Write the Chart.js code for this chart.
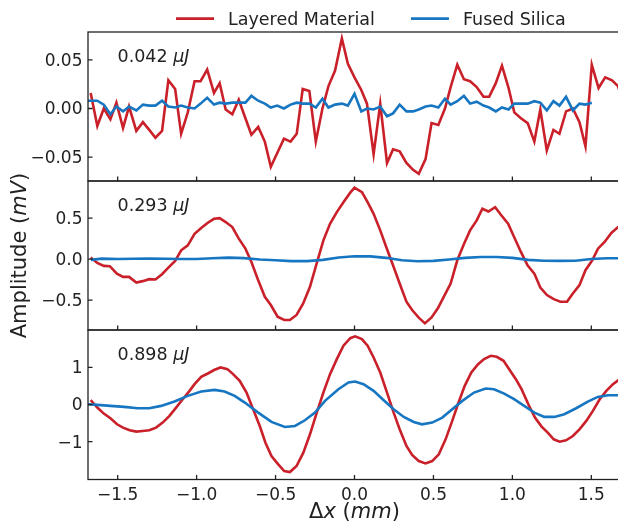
<!DOCTYPE html>
<html>
<head>
<meta charset="utf-8">
<script src="https://cdn.jsdelivr.net/npm/chart.js@4.4.1/dist/chart.umd.min.js"></script>
<style>
  html, body { margin: 0; padding: 0; background: #fff; overflow: hidden; width: 618px; height: 521px; }
  canvas { position: absolute; left: 0; }
</style>
</head>
<body>
<canvas id="panel1" width="624" height="183" style="top:0px"></canvas>
<canvas id="panel3" width="624" height="193" style="top:328px"></canvas>
<canvas id="panel2" width="624" height="312" style="top:100px"></canvas>
<script>
// series names and panel labels
const seriesNames = ['Layered Material', 'Fused Silica'];
const energies = ['0.042', '0.293', '0.898'];

// shared x axis (mm)
const xTicks = [-1.5, -1.0, -0.5, 0.0, 0.5, 1.0, 1.5];

// y ticks per panel
const yTicks1 = [-0.05, 0.00, 0.05];
const yTicks2 = [-0.5, 0.0, 0.5];
const yTicks3 = [-1, 0, 1];

// panel 1 (0.042 uJ), [x, amplitude]
const layered1 = [
  [-1.671, 0.016], [-1.629, -0.018], [-1.588, 0.000], [-1.546, -0.011], [-1.508, 0.006],
  [-1.466, -0.020], [-1.428, 0.002], [-1.382, -0.023], [-1.340, -0.014], [-1.300, -0.022],
  [-1.261, -0.030], [-1.219, -0.023], [-1.179, 0.029], [-1.136, 0.020], [-1.098, -0.026],
  [-1.056, -0.004], [-1.013, 0.028], [-0.975, 0.028], [-0.933, 0.040], [-0.890, 0.016],
  [-0.854, 0.026], [-0.816, -0.001], [-0.774, -0.006], [-0.733, 0.009], [-0.691, -0.010],
  [-0.653, -0.027], [-0.610, -0.019], [-0.568, -0.034], [-0.530, -0.060], [-0.490, -0.046],
  [-0.447, -0.031], [-0.405, -0.034], [-0.366, -0.026], [-0.328, 0.020], [-0.286, 0.018],
  [-0.245, -0.034], [-0.203, 0.000], [-0.165, 0.023], [-0.123, 0.039], [-0.080, 0.072],
  [-0.042, 0.046], [0.000, 0.032], [0.043, 0.019], [0.079, 0.005], [0.121, -0.047],
  [0.163, 0.005], [0.206, -0.056], [0.244, -0.042], [0.286, -0.044], [0.329, -0.056],
  [0.371, -0.063], [0.407, -0.067], [0.450, -0.052], [0.488, -0.015], [0.531, -0.017],
  [0.573, 0.000], [0.609, 0.022], [0.651, 0.045], [0.693, 0.030], [0.732, 0.028],
  [0.774, 0.022], [0.817, 0.012], [0.853, 0.012], [0.895, 0.026], [0.934, 0.044],
  [0.976, 0.021], [1.012, -0.004], [1.054, -0.010], [1.097, -0.015], [1.139, -0.034],
  [1.177, -0.001], [1.218, -0.043], [1.260, -0.022], [1.298, -0.026], [1.340, -0.003],
  [1.383, 0.000], [1.425, -0.014], [1.463, -0.039], [1.503, 0.045], [1.546, 0.021],
  [1.588, 0.032], [1.631, 0.029], [1.669, 0.023], [1.690, 0.012]
];
const silica1 = [
  [-1.713, 0.008], [-1.671, 0.008], [-1.629, 0.008], [-1.588, 0.004], [-1.546, -0.006],
  [-1.508, 0.002], [-1.466, -0.003], [-1.428, 0.002], [-1.382, -0.002], [-1.340, 0.004],
  [-1.300, 0.003], [-1.261, 0.003], [-1.219, 0.008], [-1.179, 0.002], [-1.136, 0.001],
  [-1.098, 0.003], [-1.056, 0.001], [-1.013, 0.000], [-0.975, 0.005], [-0.933, 0.011],
  [-0.890, 0.004], [-0.854, 0.006], [-0.816, 0.005], [-0.774, 0.006], [-0.733, 0.006],
  [-0.691, 0.006], [-0.653, 0.013], [-0.610, 0.008], [-0.568, 0.005], [-0.530, 0.001],
  [-0.490, 0.003], [-0.447, 0.000], [-0.405, 0.004], [-0.366, 0.006], [-0.328, 0.005],
  [-0.286, 0.005], [-0.245, 0.001], [-0.203, 0.010], [-0.165, 0.001], [-0.123, 0.004],
  [-0.080, 0.005], [-0.042, 0.003], [0.000, 0.015], [0.043, -0.003], [0.079, 0.000],
  [0.121, -0.001], [0.163, 0.002], [0.206, -0.008], [0.244, -0.005], [0.286, 0.004],
  [0.329, -0.003], [0.371, -0.003], [0.407, -0.001], [0.450, 0.002], [0.488, 0.003],
  [0.531, 0.001], [0.573, 0.010], [0.609, 0.004], [0.651, 0.0075], [0.693, 0.013],
  [0.732, 0.005], [0.774, 0.007], [0.817, 0.003], [0.853, 0.001], [0.895, -0.003],
  [0.934, 0.001], [0.976, -0.001], [1.012, 0.005], [1.054, 0.005], [1.097, 0.005],
  [1.139, 0.0075], [1.177, 0.006], [1.218, -0.002], [1.260, 0.0075], [1.298, 0.003],
  [1.340, 0.012], [1.383, -0.002], [1.425, 0.005], [1.463, 0.004], [1.503, 0.006]
];

// panel 2 (0.293 uJ)
const layered2 = [
  [-1.671, 0.018], [-1.629, -0.047], [-1.588, -0.083], [-1.550, -0.087], [-1.505, -0.177],
  [-1.466, -0.217], [-1.428, -0.217], [-1.382, -0.286], [-1.342, -0.269], [-1.300, -0.245],
  [-1.261, -0.249], [-1.219, -0.185], [-1.179, -0.104], [-1.136, -0.023], [-1.098, 0.107],
  [-1.056, 0.168], [-1.013, 0.309], [-0.971, 0.378], [-0.929, 0.443], [-0.890, 0.491],
  [-0.854, 0.499], [-0.816, 0.451], [-0.774, 0.390], [-0.733, 0.249], [-0.691, 0.127],
  [-0.653, -0.035], [-0.610, -0.258], [-0.568, -0.460], [-0.530, -0.561], [-0.487, -0.703],
  [-0.445, -0.743], [-0.409, -0.743], [-0.367, -0.682], [-0.325, -0.541], [-0.282, -0.338],
  [-0.240, -0.055], [-0.197, 0.228], [-0.155, 0.431], [-0.112, 0.573], [-0.070, 0.694],
  [-0.027, 0.810], [0.000, 0.870], [0.047, 0.816], [0.083, 0.694], [0.121, 0.552],
  [0.163, 0.350], [0.201, 0.147], [0.244, -0.075], [0.286, -0.298], [0.329, -0.520],
  [0.365, -0.622], [0.407, -0.715], [0.446, -0.784], [0.488, -0.711], [0.528, -0.601],
  [0.571, -0.439], [0.609, -0.298], [0.651, -0.015], [0.694, 0.188], [0.732, 0.350],
  [0.774, 0.471], [0.810, 0.613], [0.848, 0.580], [0.891, 0.633], [0.931, 0.532],
  [0.973, 0.431], [1.016, 0.248], [1.054, 0.087], [1.096, -0.075], [1.139, -0.177],
  [1.177, -0.347], [1.219, -0.439], [1.262, -0.488], [1.304, -0.520], [1.346, -0.520],
  [1.383, -0.419], [1.425, -0.318], [1.463, -0.136], [1.506, -0.015], [1.542, 0.127],
  [1.584, 0.208], [1.627, 0.318], [1.669, 0.390], [1.690, 0.400]
];
const silica2 = [
  [-1.67, -0.010], [-1.60, 0.005], [-1.50, 0.000], [-1.40, 0.003], [-1.30, 0.005],
  [-1.20, 0.003], [-1.10, 0.000], [-1.00, 0.000], [-0.90, 0.010], [-0.80, 0.018],
  [-0.70, 0.012], [-0.60, -0.005], [-0.50, -0.015], [-0.40, -0.025], [-0.30, -0.025],
  [-0.20, -0.010], [-0.10, 0.020], [0.00, 0.035], [0.10, 0.033], [0.20, 0.015],
  [0.30, -0.015], [0.40, -0.027], [0.50, -0.022], [0.60, -0.005], [0.70, 0.015],
  [0.80, 0.025], [0.90, 0.025], [1.00, 0.015], [1.10, -0.010], [1.20, -0.020],
  [1.30, -0.022], [1.40, -0.020], [1.50, 0.000], [1.60, 0.010], [1.69, 0.010]
];

// panel 3 (0.898 uJ)
const layered3 = [
  [-1.671, 0.117], [-1.629, -0.081], [-1.588, -0.243], [-1.546, -0.369], [-1.504, -0.532],
  [-1.466, -0.622], [-1.424, -0.694], [-1.382, -0.730], [-1.342, -0.712], [-1.300, -0.694],
  [-1.257, -0.622], [-1.215, -0.486], [-1.172, -0.306], [-1.130, -0.081], [-1.088, 0.144],
  [-1.045, 0.369], [-1.013, 0.550], [-0.971, 0.748], [-0.929, 0.838], [-0.886, 0.937],
  [-0.848, 1.000], [-0.805, 0.955], [-0.769, 0.820], [-0.727, 0.640], [-0.684, 0.324],
  [-0.642, -0.126], [-0.600, -0.577], [-0.564, -1.027], [-0.526, -1.387], [-0.483, -1.613],
  [-0.445, -1.793], [-0.409, -1.820], [-0.367, -1.658], [-0.324, -1.297], [-0.282, -0.802],
  [-0.239, -0.216], [-0.197, 0.324], [-0.155, 0.820], [-0.112, 1.225], [-0.070, 1.586],
  [-0.027, 1.790], [0.004, 1.840], [0.047, 1.766], [0.083, 1.586], [0.121, 1.270],
  [0.163, 0.865], [0.206, 0.324], [0.248, -0.216], [0.286, -0.667], [0.329, -1.117],
  [0.365, -1.360], [0.407, -1.523], [0.450, -1.586], [0.492, -1.523], [0.534, -1.342],
  [0.577, -0.937], [0.619, -0.441], [0.655, 0.009], [0.698, 0.505], [0.740, 0.865],
  [0.783, 1.090], [0.821, 1.225], [0.863, 1.315], [0.901, 1.288], [0.944, 1.180],
  [0.986, 0.910], [1.022, 0.685], [1.058, 0.414], [1.101, 0.009], [1.143, -0.351],
  [1.185, -0.595], [1.224, -0.757], [1.262, -0.937], [1.299, -1.000], [1.340, -0.964],
  [1.383, -0.847], [1.425, -0.667], [1.468, -0.441], [1.510, -0.171], [1.553, 0.144],
  [1.595, 0.369], [1.637, 0.550], [1.680, 0.685]
];
const silica3 = [
  [-1.692, 0.009], [-1.629, -0.009], [-1.546, -0.036], [-1.459, -0.063], [-1.374, -0.099],
  [-1.300, -0.099], [-1.225, -0.036], [-1.140, 0.081], [-1.056, 0.234], [-0.971, 0.351],
  [-0.886, 0.396], [-0.823, 0.351], [-0.759, 0.234], [-0.695, 0.054], [-0.610, -0.216],
  [-0.526, -0.468], [-0.441, -0.604], [-0.377, -0.577], [-0.314, -0.423], [-0.250, -0.216],
  [-0.187, 0.099], [-0.102, 0.414], [-0.038, 0.595], [0.004, 0.622], [0.057, 0.550],
  [0.121, 0.369], [0.185, 0.117], [0.248, -0.126], [0.312, -0.333], [0.375, -0.468],
  [0.428, -0.532], [0.492, -0.486], [0.556, -0.351], [0.619, -0.126], [0.683, 0.099],
  [0.757, 0.324], [0.831, 0.432], [0.884, 0.414], [0.948, 0.297], [1.011, 0.144],
  [1.075, -0.036], [1.139, -0.216], [1.202, -0.333], [1.266, -0.333], [1.329, -0.261],
  [1.404, -0.099], [1.478, 0.081], [1.541, 0.207], [1.605, 0.252], [1.680, 0.252]
];

const RED = '#c9202a';
const BLUE = '#1776c1';
const INK = '#222222';
const FONT = 'DejaVu Sans';

Chart.defaults.color = INK;
Chart.defaults.font.family = FONT;

// draw a run of text pieces, some italic (matplotlib mathtext look)
function drawRich(ctx, parts, x, y, align, size) {
  const fonts = parts.map(p => (p[1] ? 'italic ' : '') + size + 'px "' + FONT + '"');
  const widths = parts.map((p, i) => { ctx.font = fonts[i]; return ctx.measureText(p[0]).width; });
  const total = widths.reduce((a, b) => a + b, 0);
  let cx = align === 'center' ? x - total / 2 : x;
  ctx.textBaseline = 'middle';
  ctx.textAlign = 'left';
  parts.forEach((p, i) => {
    ctx.font = fonts[i];
    ctx.fillText(p[0], cx, y);
    cx += widths[i];
  });
}

const framePlugin = {
  id: 'frame',
  afterDraw(chart, args, opts) {
    const { ctx, chartArea: a, scales: { x, y } } = chart;
    ctx.save();
    ctx.strokeStyle = INK;
    ctx.fillStyle = INK;
    ctx.lineWidth = 1.3;
    ctx.strokeRect(a.left, a.top, a.right - a.left, a.bottom - a.top);

    // inward tick marks
    ctx.beginPath();
    xTicks.forEach(v => {
      const px = x.getPixelForValue(v);
      ctx.moveTo(px, a.bottom);
      ctx.lineTo(px, a.bottom - 4.5);
    });
    y.ticks.forEach(t => {
      const py = y.getPixelForValue(t.value);
      ctx.moveTo(a.left, py);
      ctx.lineTo(a.left + 4.5, py);
    });
    ctx.stroke();

    drawRich(ctx, [[opts.energy + ' ', false], ['\u03bcJ', true]], a.left + 29.5, a.top + 25.5, 'left', 17.5);

    if (opts.legend) {
      let lx = 176;
      chart.data.datasets.forEach(ds => {
        ctx.strokeStyle = ds.borderColor;
        ctx.lineWidth = 2.6;
        ctx.beginPath();
        ctx.moveTo(lx, 18.6);
        ctx.lineTo(lx + 38, 18.6);
        ctx.stroke();
        ctx.font = '17.5px "' + FONT + '"';
        ctx.fillStyle = INK;
        ctx.textBaseline = 'middle';
        ctx.fillText(ds.label, lx + 52, 20);
        lx += 52 + ctx.measureText(ds.label).width + 36;
      });
    }

    if (opts.yTitle) {
      ctx.save();
      ctx.translate(21, (a.top + a.bottom) / 2);
      ctx.rotate(-Math.PI / 2);
      drawRich(ctx, [['Amplitude (', false], ['mV', true], [')', false]], 0, 0, 'center', 21);
      ctx.restore();
    }

    if (opts.xTitle) {
      drawRich(ctx, [['\u0394', false], ['x', true], [' (', false], ['mm', true], [')', false]],
        (a.left + a.right) / 2, a.bottom + 33.5, 'center', 21);
    }
    ctx.restore();
  }
};

const fmt = (v, d) => {
  const s = Math.abs(v).toFixed(d);
  return (v < -1e-9 ? '\u2212' : '') + s;
};

// keep the chart area exactly where the layout padding puts it
const noEdgePadding = s => {
  s.paddingTop = 0;
  s.paddingBottom = 0;
  s.paddingLeft = 0;
  s.paddingRight = 0;
};

function makePanel(id, red, blue, yMin, yMax, yTicks, yDec, energy, extra) {
  const isBottom = !!extra.xTitle;
  return new Chart(document.getElementById(id), {
    type: 'line',
    data: {
      datasets: [
        { label: seriesNames[0], data: red.map(p => ({ x: p[0], y: p[1] })),
          borderColor: RED, backgroundColor: RED, borderWidth: 2.6, pointRadius: 0, tension: 0, order: 2 },
        { label: seriesNames[1], data: blue.map(p => ({ x: p[0], y: p[1] })),
          borderColor: BLUE, backgroundColor: BLUE, borderWidth: 2.6, pointRadius: 0, tension: 0, order: 1 }
      ]
    },
    options: {
      responsive: false,
      devicePixelRatio: 1,
      animation: false,
      events: [],
      layout: { padding: { left: 8, right: 3, top: extra.top, bottom: extra.bottom } },
      plugins: {
        legend: { display: false },
        tooltip: { enabled: false },
        frame: Object.assign({ energy: energy }, extra)
      },
      scales: {
        x: {
          type: 'linear',
          min: -1.688,
          max: 1.688,
          afterBuildTicks: s => { s.ticks = xTicks.map(v => ({ value: v })); },
          afterFit: s => { s.height = isBottom ? 41.5 : 0; noEdgePadding(s); },
          grid: { display: false, drawTicks: false },
          border: { display: false },
          ticks: { display: isBottom, padding: 6, font: { size: 17 }, color: INK, maxRotation: 0,
                   callback: v => fmt(v, 1) }
        },
        y: {
          min: yMin,
          max: yMax,
          afterBuildTicks: s => { s.ticks = yTicks.map(v => ({ value: v })); },
          afterFit: s => { s.width = 80; noEdgePadding(s); },
          grid: { display: false, drawTicks: false },
          border: { display: false },
          ticks: { padding: 5.5, labelOffset: 1.5, font: { size: 17 }, color: INK,
                   callback: v => fmt(v, yDec) }
        }
      }
    },
    plugins: [framePlugin]
  });
}

// page rows: panel 1 32-181, panel 2 181-330, panel 3 330-479.5
makePanel('panel1', layered1, silica1, -0.0745, 0.0786, yTicks1, 2, energies[0], { top: 32, bottom: 2, legend: true });
makePanel('panel2', layered2, silica2, -0.865, 0.952, yTicks2, 1, energies[1], { top: 81, bottom: 82, yTitle: true });
makePanel('panel3', layered3, silica3, -2.02, 2.01, yTicks3, 0, energies[2], { top: 2, bottom: 0, xTitle: true });
</script>
</body>
</html>
